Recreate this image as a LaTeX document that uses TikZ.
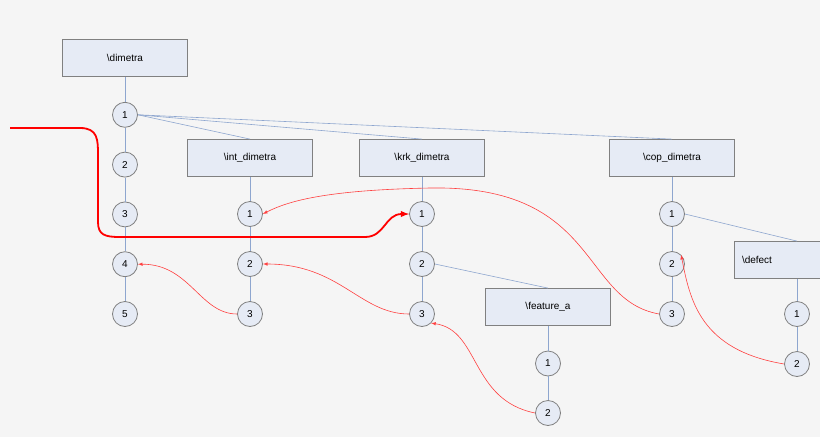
\documentclass[tikz,border=0pt]{standalone}
\usepackage{fontspec}
\setmainfont{Liberation Sans}
\definecolor{bg}{HTML}{F5F5F5}
\definecolor{boxfill}{HTML}{E6EBF5}
\definecolor{edgegray}{HTML}{808080}
\definecolor{linkblue}{HTML}{8EA6CF}
\begin{document}
\begin{tikzpicture}[x=1pt, y=-1pt, >=latex, thick]
		\tikzstyle{module}=[draw=edgegray, fill=boxfill, minimum width=125pt, minimum height=37pt, font=\normalsize]
		\tikzstyle{stage}=[circle, draw=edgegray, fill=boxfill, minimum size=25pt, inner sep=0pt, font=\normalsize]
		\tikzstyle{link}=[draw=linkblue, semithick]
		\tikzstyle{jump}=[->, draw=red!75, semithick, >=latex]
		
		\fill[bg] (0,0) rectangle (820,437);
		\useasboundingbox (0,0) rectangle (820,437);
		\clip (0,0) rectangle (820,437);
		
		% Module
		\node[module] (dimetra) at (125,58) {\textbackslash dimetra};
		\node[module] (int) at (250,158) {\textbackslash int\_dimetra};
		\node[module] (krk) at (422,158) {\textbackslash krk\_dimetra};
		\node[module] (cop) at (672,158) {\textbackslash cop\_dimetra};
		\node[module] (feat) at (548,307) {\textbackslash feature\_a};
		\node[module, text width=110pt, align=left] (defect) at (797,260) {\textbackslash defect};
		
		% Schritte
		\foreach \i in {1,...,5} \node[stage] (d\i) at (125,65+49.8*\i) {\i};
		\foreach \i in {1,...,3} {
			\node[stage] (i\i) at (250,164+50*\i) {\i};
			\node[stage] (k\i) at (422,164+50*\i) {\i};
			\node[stage] (c\i) at (672,164+50*\i) {\i};
		}
		\foreach \i in {1,2} {
			\node[stage] (f\i) at (548,314+49.5*\i) {\i};
			\node[stage] (e\i) at (797,264+50*\i) {\i};
		}
		
		% Verbindungen
		\draw[link] (dimetra) -- (d1) -- (d2) -- (d3) -- (d4) -- (d5);
		\draw[link] (int) -- (i1) -- (i2) -- (i3);
		\draw[link] (krk) -- (k1) -- (k2) -- (k3);
		\draw[link] (cop) -- (c1) -- (c2) -- (c3);
		\draw[link] (feat) -- (f1) -- (f2);
		\draw[link] (defect) -- (e1) -- (e2);
		\draw[link] (d1.east) -- (int.north);
		\draw[link] (d1.east) -- (krk.north);
		\draw[link] (d1.east) -- (cop.north);
		\draw[link] (k2.east) -- (feat.north);
		\draw[link] (c1.east) -- (defect.north);
		
		% Sprünge
		\draw[jump] (i3.west) .. controls (200,314) and (190,264) .. (d4.east);
		\draw[jump] (k3.west) .. controls (360,314) and (340,264) .. (i2.east);
		\draw[jump] (f2.west) .. controls (470,400) and (480,330) .. (k3.south east);
		\draw[jump] (c3.west) .. controls (580,300) and (600,185) .. (430,188) .. controls (330,190) and (290,200) .. (i1.east);
		\draw[jump] (e2.west) .. controls (700,350) and (690,300) .. (c2.north east);
		
		% Hauptpfad
		\coordinate (start) at (10,128);
		\draw[->, red, line width=1.8pt, >=latex] (start) -- (80,128) .. controls (98,128) and (98,140) .. (98,155) -- (98,222) .. controls (98,235) and (105,237) .. (120,237) -- (365,237) .. controls (385,237) and (385,214) .. (k1.west);
	\end{tikzpicture}
\end{document}
